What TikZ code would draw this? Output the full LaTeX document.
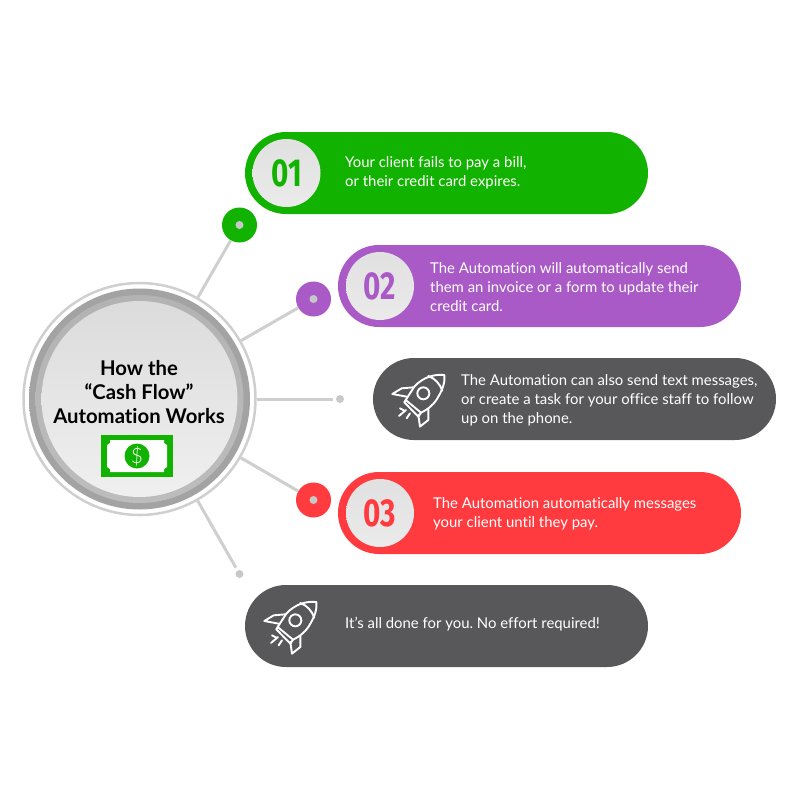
\documentclass[tikz,border=0pt]{standalone}
\usepackage{fontspec}
\setmainfont[Ligatures=NoCommon]{Lato}
\newfontfamily\numfont[FakeStretch=0.76]{Fira Sans Bold}
\newfontfamily\thinfont{Lato Light}
\usetikzlibrary{shapes.misc}
\definecolor{cgreen}{HTML}{12B300}
\definecolor{cpurple}{HTML}{A95AC6}
\definecolor{cdark}{HTML}{58585A}
\definecolor{cred}{HTML}{FF3B3F}
\definecolor{cline}{HTML}{CFCFCF}
\definecolor{cdot}{HTML}{C8C8C8}
\colorlet{E1}{white!92!black}
\colorlet{E2}{white!88!black}
\tikzset{
  pill/.style={rounded rectangle,draw=none,minimum width=403pt,minimum height=82pt,inner sep=0pt},
  numdisc/.style={circle,minimum size=68pt,inner sep=0pt,top color=E2,bottom color=E1,font=\numfont\fontsize{39}{39}\selectfont},
  bigdot/.style={circle,minimum size=35pt,inner sep=0pt},
  coredot/.style={circle,fill=cdot,minimum size=8pt,inner sep=0pt},
  spoke/.style={draw=cline,line width=3pt},
  pilltext/.style={anchor=west,align=left,text=white,inner sep=0pt,font=\fontsize{14.9}{19}\selectfont},
  rocket/.pic={
    \begin{scope}[scale=0.3333,draw=white,line width=1.9pt,line join=round,line cap=round]
      \draw (223,75) .. controls (195,72) and (160,80) .. (133,110) -- (107,150) -- (153,188) .. controls (175,178) and (195,160) .. (205,140) .. controls (218,118) and (226,95) .. (223,75);
      \draw (175,78) .. controls (195,85) and (210,102) .. (217,122);
      \draw (160,130) circle (18);
      \draw (103,157) -- (145,200);
      \draw (103,157) -- (107,150) (145,200) -- (153,188);
      \draw (130,112) -- (95,115) -- (67,132) -- (110,140);
      \draw (175,178) -- (175,210) -- (150,230) -- (145,195);
      \draw (90,175) -- (103,182);
      \draw (87,198) -- (108,180);
      \draw (110,205) -- (120,190);
    \end{scope}
  }
}
\begin{document}
\frenchspacing
\begin{tikzpicture}[x=1pt,y=-1pt]
\useasboundingbox (0,0) rectangle (800,800);
% pills
\node[pill,fill=cgreen] (p1) at (446.5,173) {};
\node[pill,fill=cpurple] (p2) at (539.5,286) {};
\node[pill,fill=cdark] (p3) at (574.5,399) {};
\node[pill,fill=cred] (p4) at (539.5,513) {};
\node[pill,fill=cdark] (p5) at (446.5,626) {};
\node[numdisc,text=cgreen] (n1) at (286.5,173) {01};
\node[numdisc,text=cpurple] (n2) at (380,286) {02};
\node[numdisc,text=cred] (n4) at (380,513) {03};
\node[pilltext] (t1) at (345,172.5) {Your client fails to pay a bill,\\or their credit card expires.};
\node[pilltext] (t2) at (430,287) {The Automation will automatically send\\them an invoice or a form to update their\\credit card.};
\node[pilltext] (t3) at (461,400) {The Automation can also send text messages,\\or create a task for your office staff to follow\\up on the phone.};
\node[pilltext] (t4) at (433,514) {The Automation automatically messages\\your client until they pay.};
\node[pilltext] (t5) at (345,624) {It’s all done for you. No effort required!};
\pic at (370,350) {rocket};
\pic at (242,577) {rocket};
% hub
\node[circle,minimum size=232pt,inner sep=0pt,draw=cline,line width=2.5pt,fill=white] (hub) at (139.5,399) {};
\node[circle,minimum size=221pt,inner sep=0pt,top color=black!36,bottom color=black!36] (hubring) at (139.5,399) {};
\node[circle,minimum size=208pt,inner sep=0pt,top color=black!30,bottom color=black!26] (hubbevel) at (139.5,399) {};
\node[circle,minimum size=196pt,inner sep=0pt,top color=black!14,bottom color=black!6] (hubface) at (139.5,399) {};
\node[align=center,inner sep=0pt,text=black,font=\bfseries\fontsize{20.3}{24}\selectfont] (title) at (139,392) {How the\\“Cash Flow”\\Automation Works};
% money
\node[rectangle,fill=cgreen,minimum width=72pt,minimum height=42pt,inner sep=0pt] (bill) at (137,456) {};
\fill[white] (110,440) -- (164,440) -- (164,443) -- (167,445) -- (167,467) -- (164,469) -- (164,472) -- (110,472) -- (110,469) -- (107,467) -- (107,445) -- (110,443) -- cycle;
\node[circle,fill=cgreen,text=white,minimum size=25pt,inner sep=0pt,font=\thinfont\fontsize{21}{21}\selectfont] (dollar) at (137,456) {\$};
% dots
\node[bigdot,fill=cgreen] (d1) at (239.5,225) {};
\node[bigdot,fill=cpurple] (d2) at (313.5,299) {};
\node[bigdot,fill=cred] (d4) at (313.5,500) {};
\node[coredot] (c1) at (239.5,225) {};
\node[coredot] (c2) at (313.5,299) {};
\node[coredot] (c4) at (313.5,500) {};
\node[coredot] (c3) at (340,399) {};
\node[coredot] (c5) at (239.5,574) {};
% spokes
\draw[spoke] (hub) -- (d1);
\draw[spoke] (hub) -- (d2);
\draw[spoke,shorten >=3pt] (hub.east) -- (c3);
\draw[spoke] (hub) -- (d4);
\draw[spoke,shorten >=3pt] (hub) -- (c5);
\end{tikzpicture}
\end{document}
